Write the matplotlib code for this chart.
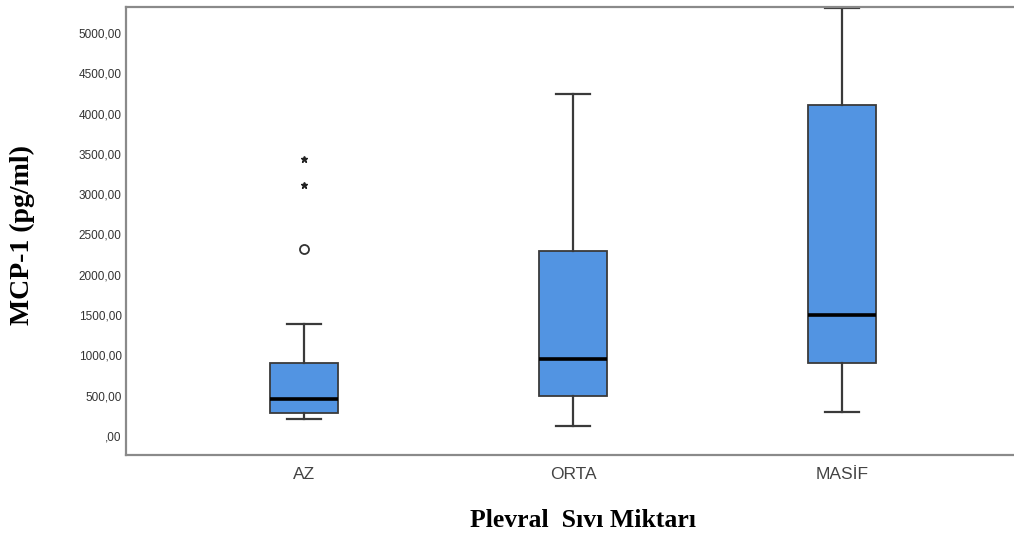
import matplotlib
matplotlib.use("Agg")
import matplotlib.pyplot as plt

# --- veriler ---
groups = ["AZ", "ORTA", "MASİF"]
whislo = [211, 124, 298]
q1 = [285, 496, 902]
med = [459, 955, 1497]
q3 = [906, 2295, 4107]
whishi = [1390, 4239, 5305]
fliers_circle = [[2320], [], []]
fliers_star = [[3114, 3437], [], []]
yticks = [0, 500, 1000, 1500, 2000, 2500, 3000, 3500, 4000, 4500, 5000]

box_color = "#5294E2"
edge_color = "#3a3a3a"

fig = plt.figure(figsize=(10.14, 5.38), dpi=100)
ax = fig.add_axes([0.124, 0.1543, 0.90, 0.8327])

stats = []
for i, g in enumerate(groups):
    stats.append(dict(label=g, whislo=whislo[i], q1=q1[i], med=med[i],
                      q3=q3[i], whishi=whishi[i], fliers=fliers_circle[i]))

positions = [1, 2, 3]
ax.bxp(stats, positions=positions, widths=0.25, patch_artist=True,
       boxprops=dict(facecolor=box_color, edgecolor=edge_color, linewidth=1.3),
       medianprops=dict(color="black", linewidth=2.6),
       whiskerprops=dict(color=edge_color, linewidth=1.6),
       capprops=dict(color=edge_color, linewidth=1.6),
       capwidths=0.125,
       flierprops=dict(marker="o", markerfacecolor="white",
                       markeredgecolor="#333333", markersize=6.5,
                       markeredgewidth=1.3))

# yıldız (aşırı uç) değerler
for i, vals in enumerate(fliers_star):
    if vals:
        ax.plot([positions[i]] * len(vals), vals, linestyle="none",
                marker="*", color="#222222", markersize=5)

ax.set_xlim(0.337, 3.73)
ax.set_ylim(-236, 5323)

ax.set_yticks(yticks)
ax.set_yticklabels([(",00" if v == 0 else f"{v},00") for v in yticks])
ax.set_xticks(positions)
ax.set_xticklabels(groups)

ax.tick_params(axis="y", length=0, pad=3, labelsize=8.5, labelcolor="#333333")
ax.tick_params(axis="x", length=0, pad=9, labelsize=12.5, labelcolor="#444444")
for lab in ax.get_yticklabels() + ax.get_xticklabels():
    lab.set_fontfamily("Liberation Sans")

for side in ["left", "bottom", "top"]:
    ax.spines[side].set_color("#8a8a8a")
    ax.spines[side].set_linewidth(1.6)
ax.spines["right"].set_visible(False)

fig.text(0.022, 0.563, "MCP-1 (pg/ml)", rotation=90, ha="center", va="center",
         fontsize=20, fontweight="bold", family="Liberation Serif")
fig.text(0.575, 0.032, "Plevral  Sıvı Miktarı", ha="center", va="center",
         fontsize=18.5, fontweight="bold", family="Liberation Serif")

fig.savefig("out.png", dpi=100)
